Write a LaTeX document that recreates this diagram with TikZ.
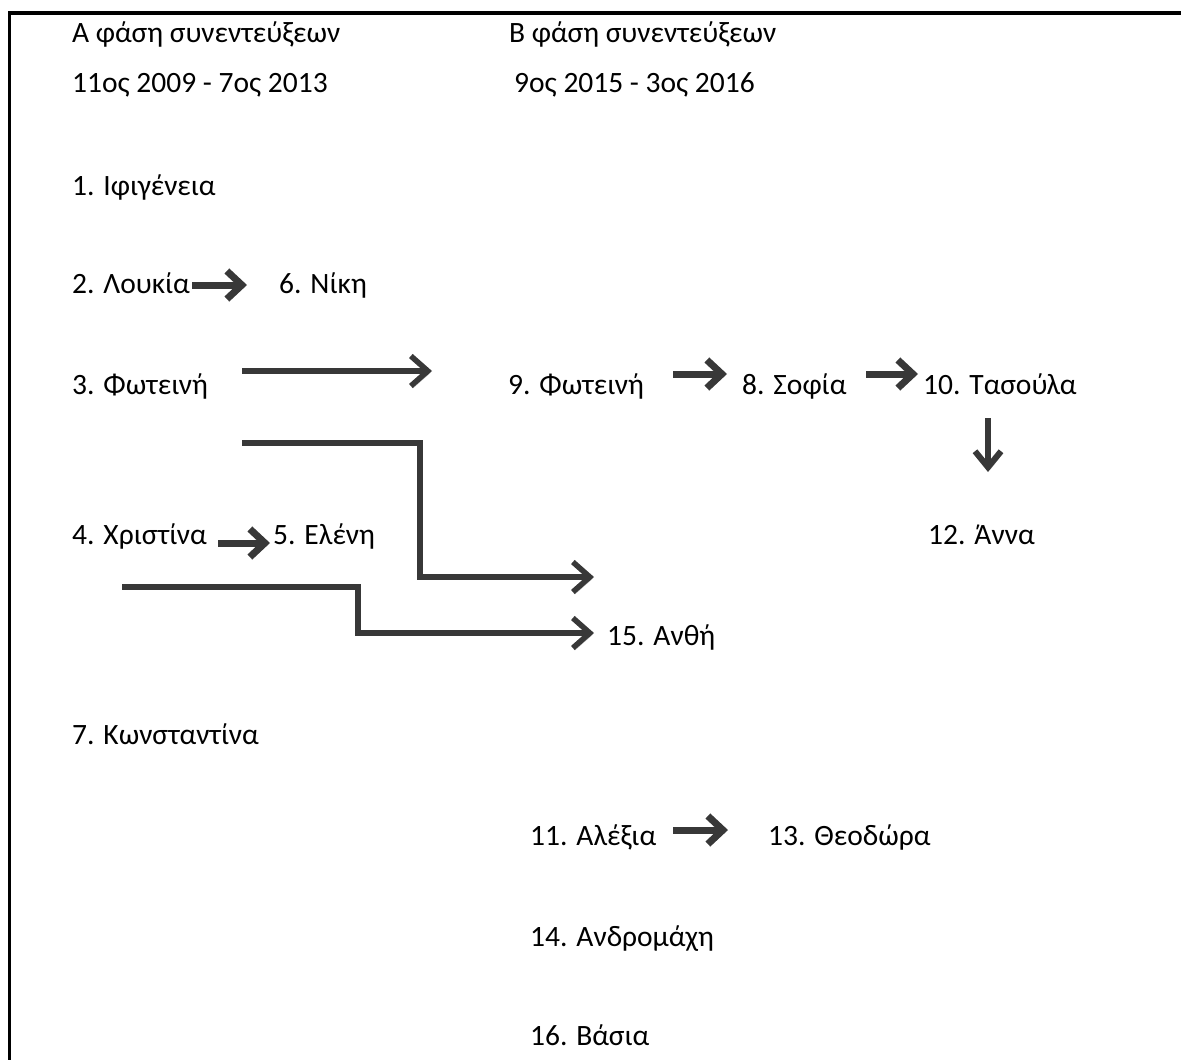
\documentclass[tikz,border=0pt]{standalone}
\usepackage{fontspec}
\setmainfont{Carlito}
\usetikzlibrary{arrows.meta}
\definecolor{arrowc}{HTML}{383838}
\definecolor{shadowc}{HTML}{BEBEBE}
\tikzset{
  lbl/.style={anchor=base west, inner sep=0pt, font=\fontsize{29.5}{34}\selectfont, text=black},
  conn/.style={draw=arrowc, line width=5.5pt, line cap=butt, line join=miter,
    -{Straight Barb[length=17pt, width=30pt]},
    preaction={draw=shadowc, transform canvas={shift={(2pt,-2.2pt)}}}},
  fatconn/.style={conn, line width=7pt, -{Straight Barb[length=15pt, width=28pt]}},
}
\begin{document}
\begin{tikzpicture}[x=1pt, y=-1pt]
\useasboundingbox (0,0) rectangle (1181,1060);
% frame
\draw[line width=3.5pt] (1181,13) -- (9.5,13) -- (9.5,1060);
% headers
\node[lbl] (ha) at (72,42) {Α φάση συνεντεύξεων};
\node[lbl] (hb) at (509,42) {Β φάση συνεντεύξεων};
\node[lbl] (da) at (72,92) {11ος 2009 - 7ος 2013};
\node[lbl] (db) at (514,92) {9ος 2015 - 3ος 2016};
% left column
\node[lbl] (n1) at (72,195) {1. Ιφιγένεια};
\node[lbl] (n2) at (72,293) {2. Λουκία};
\node[lbl] (n6) at (279,293) {6. Νίκη};
\node[lbl] (n3) at (72,394) {3. Φωτεινή};
\node[lbl] (n4) at (72,544) {4. Χριστίνα};
\node[lbl] (n5) at (273,544) {5. Ελένη};
\node[lbl] (n7) at (72,744) {7. Κωνσταντίνα};
% right part
\node[lbl] (n9) at (508,394) {9. Φωτεινή};
\node[lbl] (n8) at (742,394) {8. Σοφία};
\node[lbl] (n10) at (923,394) {10. Τασούλα};
\node[lbl] (n12) at (928,544) {12. Άννα};
\node[lbl] (n15) at (607,645) {15. Ανθή};
\node[lbl] (n11) at (530,845) {11. Αλέξια};
\node[lbl] (n13) at (768,845) {13. Θεοδώρα};
\node[lbl] (n14) at (530,946) {14. Ανδρομάχη};
\node[lbl] (n16) at (530,1045) {16. Βάσια};
% connector end points
\coordinate (a2s) at (192,285);  \coordinate (a2e) at (247,285);
\coordinate (a3s) at (242,371);  \coordinate (a3e) at (432,371);
\coordinate (a9s) at (673,374);  \coordinate (a9e) at (727,374);
\coordinate (a8s) at (866,374);  \coordinate (a8e) at (918,374);
\coordinate (a10s) at (988,418); \coordinate (a10e) at (988,472);
\coordinate (e1s) at (242,443);  \coordinate (e1a) at (420,443);
\coordinate (e1b) at (420,577);  \coordinate (e1e) at (594,577);
\coordinate (a4s) at (218,543);  \coordinate (a4e) at (270,543);
\coordinate (e2s) at (122,587);  \coordinate (e2a) at (358,587);
\coordinate (e2b) at (358,633);  \coordinate (e2e) at (594,633);
\coordinate (a11s) at (673,830); \coordinate (a11e) at (728,830);
% connectors
\draw[fatconn] (a2s) -- (a2e);
\draw[conn] (a3s) -- (a3e);
\draw[fatconn] (a9s) -- (a9e);
\draw[fatconn] (a8s) -- (a8e);
\draw[conn, line width=6pt, -{Straight Barb[length=16pt, width=26pt]}] (a10s) -- (a10e);
\draw[conn] (e1s) -- (e1a) -- (e1b) -- (e1e);
\draw[fatconn] (a4s) -- (a4e);
\draw[conn] (e2s) -- (e2a) -- (e2b) -- (e2e);
\draw[fatconn] (a11s) -- (a11e);
\end{tikzpicture}
\end{document}
